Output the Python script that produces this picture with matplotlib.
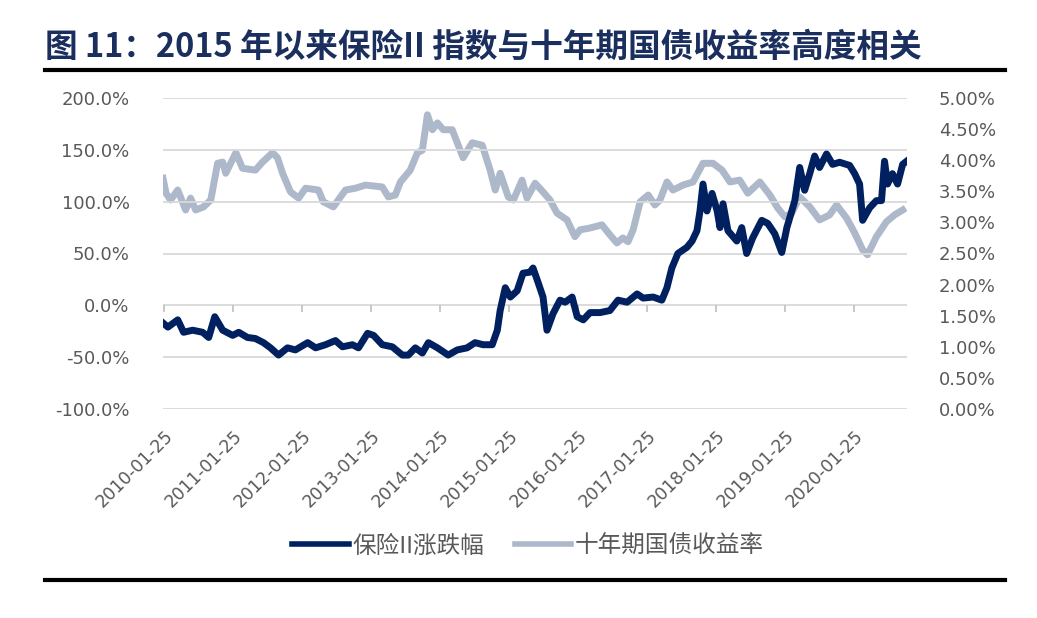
import pandas as pd
import matplotlib
matplotlib.use('Agg')
import matplotlib.pyplot as plt
from matplotlib.lines import Line2D
from matplotlib.ticker import FuncFormatter, MultipleLocator

plt.rcParams['font.family'] = ['DejaVu Sans', 'Noto Sans CJK SC']

CJK = ['Noto Sans CJK SC', 'DejaVu Sans']

# 保险II指数累计涨跌幅 (%)
ins_dates = ['2010-01-20', '2010-02-15', '2010-04-08', '2010-05-09', '2010-06-26', '2010-08-18',
             '2010-09-19', '2010-10-21', '2010-12-02', '2011-01-24', '2011-02-25', '2011-04-12',
             '2011-05-24', '2011-07-06', '2011-08-12', '2011-09-24', '2011-11-10', '2011-12-22',
             '2012-02-25', '2012-04-07', '2012-05-29', '2012-07-21', '2012-08-27', '2012-10-19',
             '2012-11-20', '2013-01-07', '2013-02-08', '2013-03-26', '2013-05-18', '2013-07-10',
             '2013-08-11', '2013-09-17', '2013-10-24', '2013-11-25', '2014-01-12', '2014-03-10',
             '2014-04-27', '2014-06-18', '2014-07-30', '2014-09-11', '2014-10-29', '2014-11-25',
             '2014-12-10', '2015-01-06', '2015-02-02', '2015-03-10', '2015-04-10', '2015-05-17',
             '2015-06-02', '2015-06-29', '2015-07-25', '2015-08-15', '2015-09-16', '2015-10-23',
             '2015-11-19', '2015-12-26', '2016-01-22', '2016-02-23', '2016-03-30', '2016-05-22',
             '2016-07-13', '2016-08-25', '2016-10-12', '2016-12-04', '2017-01-05', '2017-02-27',
             '2017-04-14', '2017-05-11', '2017-06-06', '2017-07-08', '2017-08-25', '2017-09-21',
             '2017-10-17', '2017-11-02', '2017-11-18', '2017-12-09', '2018-01-05', '2018-02-01',
             '2018-02-16', '2018-03-04', '2018-03-30', '2018-05-16', '2018-06-11', '2018-07-07',
             '2018-08-08', '2018-09-25', '2018-10-27', '2018-12-03', '2019-01-09', '2019-02-05',
             '2019-03-03', '2019-03-19', '2019-04-14', '2019-05-10', '2019-06-06', '2019-07-02',
             '2019-07-28', '2019-09-03', '2019-10-05', '2019-11-11', '2020-01-03', '2020-01-30',
             '2020-02-25', '2020-03-12', '2020-04-18', '2020-05-24', '2020-06-20', '2020-07-06',
             '2020-07-22', '2020-08-17', '2020-09-13', '2020-10-10', '2020-10-31']
ins_values = [-17, -21, -14, -26, -24, -26,
              -31, -11, -24, -29, -26, -31,
              -32, -36, -41, -48, -41, -43,
              -36, -41, -38, -34, -40, -38,
              -41, -27, -29, -38, -40, -48,
              -48, -41, -46, -36, -41, -48,
              -43, -41, -36, -38, -38, -24,
              -5, 17, 8, 14, 31, 32,
              36, 22, 8, -24, -8, 5,
              3, 8, -11, -14, -7, -7,
              -5, 5, 3, 11, 7, 8,
              5, 17, 36, 50, 56, 62,
              72, 91, 117, 91, 108, 91,
              75, 98, 72, 62, 75, 50,
              65, 82, 79, 69, 51, 75,
              91, 101, 133, 111, 127, 144,
              133, 146, 136, 138, 135, 127,
              117, 82, 94, 101, 101, 139,
              117, 127, 117, 136, 139]

# 十年期国债收益率 (%)
bond_dates = ['2010-01-20', '2010-02-05', '2010-03-01', '2010-04-08', '2010-05-20', '2010-06-15',
              '2010-07-12', '2010-08-23', '2010-09-30', '2010-11-05', '2010-12-02', '2010-12-18',
              '2011-02-10', '2011-03-17', '2011-05-24', '2011-07-01', '2011-08-23', '2011-09-18',
              '2011-10-15', '2011-11-26', '2012-01-08', '2012-02-14', '2012-04-22', '2012-05-18',
              '2012-07-10', '2012-09-12', '2012-11-04', '2012-12-27', '2013-03-26', '2013-04-27',
              '2013-06-03', '2013-06-30', '2013-08-21', '2013-09-28', '2013-10-24', '2013-11-20',
              '2013-12-16', '2014-01-12', '2014-02-12', '2014-03-31', '2014-04-27', '2014-05-28',
              '2014-07-15', '2014-09-06', '2014-10-18', '2014-11-14', '2014-12-10', '2015-01-22',
              '2015-02-18', '2015-04-05', '2015-05-01', '2015-06-13', '2015-07-25', '2015-08-31',
              '2015-10-07', '2015-11-29', '2016-01-10', '2016-02-06', '2016-03-30', '2016-06-01',
              '2016-07-13', '2016-08-19', '2016-09-20', '2016-10-17', '2016-11-13', '2016-12-20',
              '2017-02-01', '2017-03-08', '2017-04-04', '2017-05-11', '2017-06-12', '2017-08-04',
              '2017-09-26', '2017-11-18', '2018-01-10', '2018-02-27', '2018-04-10', '2018-05-31',
              '2018-07-13', '2018-09-15', '2018-11-07', '2018-12-19', '2019-01-25', '2019-03-03',
              '2019-04-14', '2019-06-06', '2019-07-28', '2019-09-19', '2019-10-26', '2019-12-18',
              '2020-01-30', '2020-03-12', '2020-04-07', '2020-05-24', '2020-07-16', '2020-08-28',
              '2020-10-10']
bond_values = [3.71, 3.47, 3.36, 3.52, 3.20, 3.39,
               3.20, 3.25, 3.36, 3.95, 3.97, 3.79,
               4.12, 3.87, 3.84, 3.97, 4.12, 4.04,
               3.79, 3.49, 3.39, 3.55, 3.52, 3.33,
               3.25, 3.52, 3.55, 3.60, 3.57, 3.41,
               3.44, 3.65, 3.84, 4.12, 4.16, 4.73,
               4.49, 4.60, 4.49, 4.49, 4.28, 4.04,
               4.28, 4.24, 3.84, 3.52, 3.79, 3.41,
               3.36, 3.68, 3.39, 3.63, 3.49, 3.36,
               3.15, 3.04, 2.77, 2.88, 2.91, 2.96,
               2.80, 2.67, 2.75, 2.69, 2.88, 3.33,
               3.44, 3.28, 3.36, 3.65, 3.52, 3.60,
               3.65, 3.95, 3.95, 3.84, 3.65, 3.68,
               3.47, 3.65, 3.44, 3.23, 3.09, 3.15,
               3.41, 3.25, 3.04, 3.12, 3.28, 3.07,
               2.83, 2.56, 2.48, 2.77, 3.01, 3.12,
               3.20]

tick_dates = ['2010-01-25', '2011-01-25', '2012-01-25', '2013-01-25', '2014-01-25', '2015-01-25',
              '2016-01-25', '2017-01-25', '2018-01-25', '2019-01-25', '2020-01-25']

title = '图 11：2015 年以来保险II 指数与十年期国债收益率高度相关'
ins_label = '保险II涨跌幅'
bond_label = '十年期国债收益率'

NAVY = '#002060'
GREY_BLUE = '#ADB9CA'
GRID = '#D9D9D9'
TXT = '#595959'

W, H = 1037, 618
fig = plt.figure(figsize=(W / 100, H / 100), dpi=100)
ax = fig.add_axes([163 / W, 1 - 409 / H, (907 - 163) / W, (409 - 98) / H])
ax2 = ax.twinx()

ticks = pd.to_datetime(tick_dates)

# 网格线与横轴刻度
ax.set_ylim(-100, 200)
ax.yaxis.set_major_locator(MultipleLocator(50))
ax.grid(axis='y', color=GRID, lw=1.3)
ax.set_axisbelow(True)
ax.vlines(ticks, -6, 0, color='#BFBFBF', lw=1.2, zorder=1)

ax2.plot(pd.to_datetime(bond_dates), bond_values, color=GREY_BLUE, lw=5,
         solid_joinstyle='round', zorder=2)
ax2.set_ylim(0, 5)
ax2.yaxis.set_major_locator(MultipleLocator(0.5))

# 保险指数画在国债收益率之上
ax.set_zorder(ax2.get_zorder() + 1)
ax.patch.set_visible(False)
ax.plot(pd.to_datetime(ins_dates), ins_values, color=NAVY, lw=5,
        solid_joinstyle='round', zorder=3)

ax.set_xlim(pd.Timestamp('2010-01-20'), pd.Timestamp('2020-11-02'))
ax.set_xticks(ticks)
ax.set_xticklabels(tick_dates, rotation=45, ha='right', rotation_mode='anchor',
                   fontsize=12.5, color=TXT)
ax.tick_params(axis='x', length=0, pad=13)

ax.yaxis.set_major_formatter(FuncFormatter(lambda v, p: f'{v:.1f}%'))
ax2.yaxis.set_major_formatter(FuncFormatter(lambda v, p: f'{v:.2f}%'))
ax.tick_params(axis='y', length=0, pad=24, labelsize=13, labelcolor=TXT)
ax2.tick_params(axis='y', length=0, pad=23, labelsize=13, labelcolor=TXT)

for a in (ax, ax2):
    for s in a.spines.values():
        s.set_visible(False)

# 标题与上下分隔线
fig.text(45 / W, 1 - 47 / H, title, fontsize=23.5, fontweight='bold', color='#1B2F5E',
         va='center', ha='left', family=CJK)
fig.add_artist(Line2D([45 / W, 1005 / W], [1 - 70 / H] * 2, color='black', lw=3))
fig.add_artist(Line2D([45 / W, 1005 / W], [1 - 580 / H] * 2, color='black', lw=3))

handles = [Line2D([], [], color=NAVY, lw=4), Line2D([], [], color=GREY_BLUE, lw=4)]
fig.legend(handles, [ins_label, bond_label], loc='center', bbox_to_anchor=(528 / W, 1 - 546 / H),
           ncol=2, frameon=False, prop={'family': CJK, 'size': 17}, labelcolor=TXT,
           handlelength=2.4, handletextpad=0.15, columnspacing=1.3)

fig.savefig('out.png', dpi=100)
